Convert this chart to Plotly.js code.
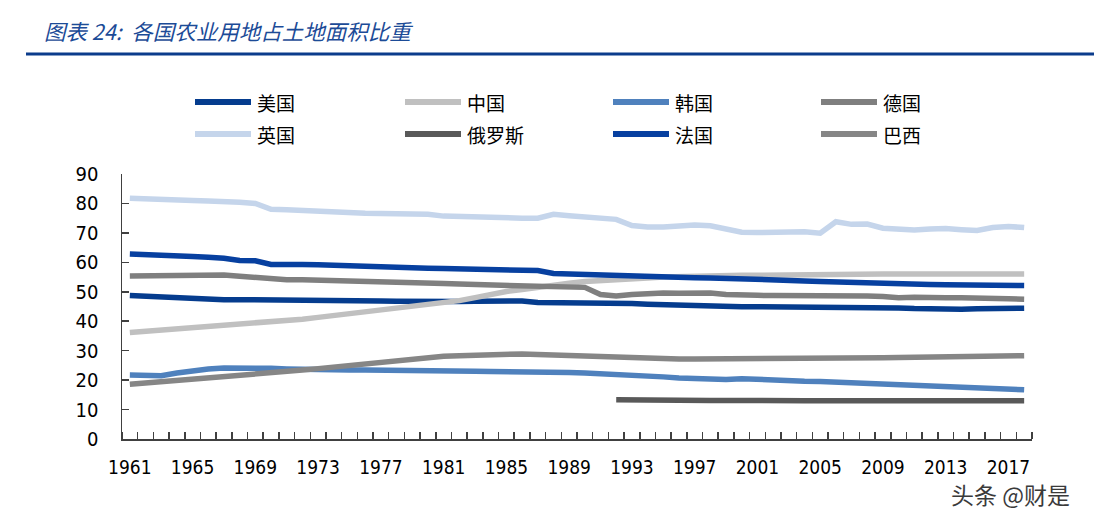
<!DOCTYPE html>
<html>
<head>
<meta charset="utf-8">
<script src="https://cdn.plot.ly/plotly-3.0.1.min.js"></script>
<style>html,body{margin:0;padding:0;background:#fff;}#chart{width:1094px;height:513px;}</style>
</head>
<body>
<div id="chart"></div>
<script>
var years = [1961,1962,1963,1964,1965,1966,1967,1968,1969,1970,
  1971,1972,1973,1974,1975,1976,1977,1978,1979,1980,
  1981,1982,1983,1984,1985,1986,1987,1988,1989,1990,
  1991,1992,1993,1994,1995,1996,1997,1998,1999,2000,
  2001,2002,2003,2004,2005,2006,2007,2008,2009,2010,
  2011,2012,2013,2014,2015,2016,2017,2018];

var tickYears = [1961,1965,1969,1973,1977,1981,1985,1989,1993,1997,2001,2005,2009,2013,2017];
var tickLabels = ["1961","1965","1969","1973","1977","1981","1985","1989","1993","1997","2001","2005","2009","2013","2017"];

var usa = [48.7,48.4,48.1,47.8,47.5,47.4,47.3,47.3,47.3,47.2,
  47.1,47.0,47.0,46.9,46.9,46.9,46.9,46.8,46.7,46.6,
  46.6,46.7,46.8,46.9,46.9,46.9,46.4,46.4,46.4,46.4,
  46.3,46.2,46.0,45.8,45.6,45.4,45.2,45.1,45.0,44.9,
  44.9,44.9,44.9,44.9,44.9,44.9,44.9,44.8,44.7,44.5,
  44.3,44.1,44.0,44.1,44.2,44.3,44.3,44.4];

var china = [36.2,36.6,36.9,37.2,37.6,38.0,38.4,38.8,39.3,39.8,
  40.2,40.7,41.3,41.9,42.4,43.0,43.7,44.3,44.9,45.5,
  46.2,47.0,48.0,49.1,50.1,50.8,51.6,52.3,52.9,53.5,
  53.9,54.2,54.5,54.7,55.0,55.2,55.3,55.4,55.5,55.6,
  55.6,55.7,55.8,55.8,55.9,55.9,56.0,56.0,56.0,56.0,
  56.0,56.0,56.0,56.0,56.0,56.0,56.0,56.0];

var korea = [21.7,21.4,21.5,22.4,23.3,23.8,24.1,24.2,24.2,24.0,
  23.8,23.6,23.5,23.5,23.4,23.4,23.4,23.3,23.2,23.2,
  23.1,23.1,23.0,22.9,22.9,22.8,22.8,22.7,22.6,22.4,
  22.2,22.0,21.9,21.6,21.1,20.7,20.5,20.4,20.2,20.5,
  20.2,19.9,19.7,19.6,19.5,19.3,19.1,18.9,18.6,18.3,
  18.1,18.3,18.1,17.9,17.7,17.3,17.0,16.7];

var germany = [55.4,55.5,55.5,55.6,55.9,55.9,55.7,55.3,54.9,54.3,
  54.1,54.1,54.0,53.9,53.8,53.7,53.6,53.4,53.2,53.0,
  52.8,52.6,52.5,52.3,52.2,52.1,52.0,51.9,51.7,51.5,
  49.1,48.6,49.1,49.5,49.6,49.5,49.5,49.6,49.1,48.8,
  48.8,48.7,48.7,48.8,48.9,48.7,48.7,48.6,48.4,48.0,
  48.1,47.9,48.0,48.0,48.0,47.6,47.6,47.5];

var uk = [81.8,81.7,81.6,81.4,81.0,80.8,80.8,80.4,80.0,78.0,
  77.9,77.6,77.3,77.0,76.8,76.7,76.6,76.5,76.4,76.3,
  75.7,75.5,75.3,75.2,75.1,75.0,75.0,76.3,75.8,75.4,
  75.0,74.6,72.5,72.0,72.0,72.4,72.7,72.4,71.2,70.2,
  70.1,70.1,70.2,70.4,69.9,73.8,72.9,73.0,71.6,71.2,
  71.0,71.3,71.5,71.1,70.8,71.8,72.2,71.8];

var russia = [null,null,null,null,null,null,null,null,null,null,
  null,null,null,null,null,null,null,null,null,null,
  null,null,null,null,null,null,null,null,null,null,
  null,13.3,13.2,13.1,13.0,13.0,13.1,13.1,13.1,13.0,
  13.0,13.0,13.0,13.0,13.0,13.0,13.0,13.0,13.0,13.0,
  13.0,13.0,13.0,13.0,13.0,13.0,13.0,13.0];

var france = [62.8,62.7,62.5,62.2,62.0,61.7,61.4,60.6,60.5,59.3,
  59.5,59.3,59.2,59.0,58.9,58.4,58.5,58.4,58.2,58.0,
  57.9,57.8,57.7,57.6,57.5,57.4,57.2,56.2,56.0,55.8,
  55.6,55.5,55.4,55.2,55.0,54.9,54.8,54.7,54.6,54.4,
  54.2,54.0,53.9,53.7,53.5,53.3,53.2,53.0,52.8,52.7,
  52.6,52.5,52.4,52.3,52.3,52.2,52.2,52.1];

var brazil = [18.6,19.0,19.4,19.8,20.2,20.6,21.0,21.4,21.9,22.4,
  22.9,23.4,23.9,24.4,24.9,25.5,26.1,26.7,27.2,27.8,
  28.1,28.3,28.5,28.7,28.9,28.9,28.7,28.5,28.2,28.0,
  27.9,27.7,27.5,27.3,27.2,27.2,27.2,27.2,27.2,27.2,
  27.2,27.2,27.2,27.3,27.3,27.3,27.4,27.5,27.6,27.7,
  27.8,27.9,28.0,28.1,28.1,28.2,28.3,28.3];

var names = ["美国","中国","韩国","德国","英国","俄罗斯","法国","巴西"];
var seriesList = [usa, china, korea, germany, uk, russia, france, brazil];
var colors = ["#053C8E","#C0C0C0","#4F81BD","#7F7F7F","#C5D5EB","#595959","#0740A0","#868686"];

var traces = seriesList.map(function(s, i){
  return {
    type: 'scatter', mode: 'lines', x: years, y: s, name: names[i],
    line: {color: colors[i], width: 5.5},
    connectgaps: false, hoverinfo: 'skip', showlegend: false
  };
});

// pixel helpers for placing decoration in paper coordinates
var PL = 122, PW = 910, PB = 439, PH = 265;
function px(x){ return (x - PL) / PW; }
function py(y){ return (PB - y) / PH; }

var axisColor = '#404040';
var shapes = [{
  type: 'line', xref: 'paper', yref: 'paper',
  x0: px(26), x1: px(1094), y0: py(54), y1: py(54),
  line: {color: '#0B3C8C', width: 3}
}];
var annotations = [{
  text: '头条 @财是', xref: 'paper', yref: 'paper',
  x: px(1010), y: py(494), xanchor: 'center', yanchor: 'middle',
  showarrow: false,
  font: {family: 'Noto Sans CJK SC', size: 23, color: '#3A3A3A',
         shadow: '1px 1px 1px #fff, -1px -1px 1px #fff, 1px -1px 1px #fff, -1px 1px 1px #fff'}
}];

// custom legend (2 rows x 4 columns)
var legCols = [195, 405, 613, 821];
var legRows = [102, 134];
names.forEach(function(n, i){
  var cx = legCols[i % 4], cy = legRows[Math.floor(i / 4)];
  shapes.push({
    type: 'line', xref: 'paper', yref: 'paper',
    x0: px(cx), x1: px(cx + 56), y0: py(cy), y1: py(cy),
    line: {color: colors[i], width: 6}
  });
  annotations.push({
    text: n, xref: 'paper', yref: 'paper', x: px(cx + 60), y: py(cy),
    xanchor: 'left', yanchor: 'middle', showarrow: false,
    font: {family: 'Noto Sans CJK SC', size: 19, color: '#000'}
  });
});

var layout = {
  width: 1094, height: 513,
  margin: {l: 122, r: 62, t: 174, b: 74},
  paper_bgcolor: '#fff', plot_bgcolor: '#fff',
  font: {family: 'DejaVu Sans Condensed, DejaVu Sans, sans-serif', color: '#000'},
  title: {
    text: '<i>图表 24:  各国农业用地占土地面积比重</i>',
    font: {family: 'Noto Sans CJK SC, DejaVu Sans', size: 21.5, color: '#1C4B97'},
    x: 44/1094, xref: 'container', xanchor: 'left',
    y: 1 - 32/513, yref: 'container', yanchor: 'middle'
  },
  showlegend: false,
  xaxis: {
    type: 'linear', range: [1960.5, 2018.5],
    tickmode: 'array', tickvals: tickYears, ticktext: tickLabels,
    ticks: '', showgrid: false, zeroline: false,
    showline: true, linecolor: axisColor, linewidth: 1.5,
    tickfont: {size: 19, color: '#000'}, ticklabelstandoff: 11,
    minor: {tickmode: 'linear', tick0: 1960.5, dtick: 1, ticks: 'inside', ticklen: 7, tickwidth: 1.5, tickcolor: axisColor, showgrid: false}
  },
  yaxis: {
    range: [0, 90], tickmode: 'linear', tick0: 0, dtick: 10,
    ticks: 'inside', ticklen: 7, tickwidth: 1.5, tickcolor: axisColor,
    showgrid: false, zeroline: false,
    showline: true, linecolor: axisColor, linewidth: 1.5,
    tickfont: {size: 20, color: '#000'}, ticklabelstandoff: 18
  },
  shapes: shapes,
  annotations: annotations
};

Plotly.newPlot('chart', traces, layout, {displayModeBar: false, staticPlot: true});
</script>
</body>
</html>
